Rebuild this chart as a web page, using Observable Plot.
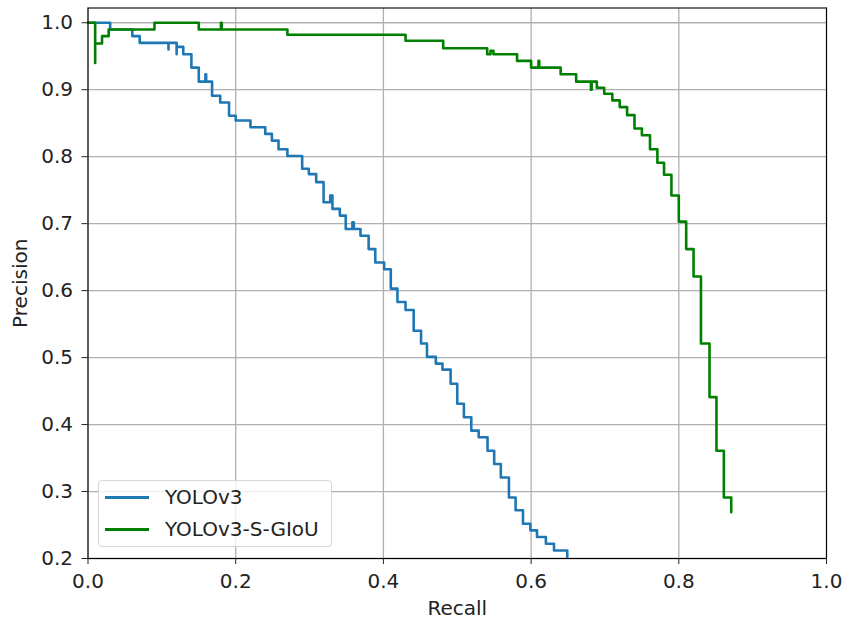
<!DOCTYPE html>
<html><head><meta charset="utf-8">
<script src="https://cdn.jsdelivr.net/npm/d3@7"></script>
<script src="https://cdn.jsdelivr.net/npm/@observablehq/plot@0.6"></script>
<style>
body{margin:0;background:#fff;}
#wrap{position:relative;width:847px;height:621px;}
#legend{position:absolute;left:98px;top:480px;width:234px;height:67px;box-sizing:border-box;border:1px solid #d6d6d6;border-radius:4px;background:rgba(255,255,255,0.8);font-family:"DejaVu Sans";font-size:20px;color:#222;}
.entry{position:absolute;left:0;height:22px;}
.entry .sw{position:absolute;left:6px;top:10px;width:44px;height:2.6px;}
.entry .lb{position:absolute;left:66px;top:0;white-space:nowrap;line-height:22px;}
</style>
</head><body>
<div id="wrap"></div>
<script>
const seriesNames = ["YOLOv3", "YOLOv3-S-GIoU"];
const seriesColors = ["#1f77b4", "#008000"];
const xTicks = [0, 0.2, 0.4, 0.6, 0.8, 1.0];
const yTicks = [0.2, 0.3, 0.4, 0.5, 0.6, 0.7, 0.8, 0.9, 1.0];

const yolov3Recall = [0, 0.030, 0.060, 0.070, 0.109, 0.109, 0.120, 0.120, 0.129, 0.140, 0.150, 0.159, 0.160, 0.168, 0.179, 0.191, 0.200, 0.220, 0.240, 0.249, 0.258, 0.270, 0.290, 0.299, 0.309, 0.319, 0.328, 0.331, 0.341, 0.349, 0.358, 0.360, 0.369, 0.380, 0.389, 0.401, 0.410, 0.419, 0.430, 0.441, 0.451, 0.459, 0.471, 0.480, 0.491, 0.500, 0.509, 0.519, 0.529, 0.541, 0.550, 0.559, 0.570, 0.579, 0.589, 0.599, 0.608, 0.620, 0.631, 0.649];
const yolov3Precision = [1.00, 0.99, 0.98, 0.97, 0.96, 0.97, 0.953, 0.964, 0.953, 0.933, 0.912, 0.923, 0.912, 0.891, 0.881, 0.861, 0.854, 0.844, 0.834, 0.824, 0.811, 0.801, 0.782, 0.774, 0.762, 0.732, 0.742, 0.722, 0.712, 0.692, 0.702, 0.692, 0.682, 0.662, 0.642, 0.632, 0.603, 0.583, 0.571, 0.540, 0.521, 0.501, 0.491, 0.482, 0.461, 0.431, 0.411, 0.391, 0.381, 0.361, 0.341, 0.321, 0.291, 0.272, 0.252, 0.242, 0.232, 0.222, 0.212, 0.202];

const sgiouRecall = [0, 0.0097, 0.0097, 0.019, 0.028, 0.090, 0.150, 0.180, 0.181, 0.270, 0.430, 0.481, 0.5405, 0.545, 0.549, 0.581, 0.600, 0.610, 0.611, 0.640, 0.661, 0.681, 0.682, 0.689, 0.699, 0.710, 0.720, 0.730, 0.740, 0.750, 0.761, 0.771, 0.780, 0.790, 0.800, 0.810, 0.820, 0.830, 0.8416, 0.851, 0.861, 0.871];
const sgiouPrecision = [1.00, 0.94, 0.969, 0.98, 0.99, 1.00, 0.99, 1.00, 0.99, 0.982, 0.973, 0.962, 0.953, 0.958, 0.953, 0.943, 0.933, 0.943, 0.933, 0.923, 0.912, 0.90, 0.912, 0.903, 0.894, 0.884, 0.874, 0.862, 0.842, 0.832, 0.811, 0.791, 0.773, 0.742, 0.703, 0.662, 0.621, 0.521, 0.441, 0.361, 0.291, 0.269];

const rows = [
  ...yolov3Recall.map((r, i) => ({recall: r, precision: yolov3Precision[i], series: seriesNames[0]})),
  ...sgiouRecall.map((r, i) => ({recall: r, precision: sgiouPrecision[i], series: seriesNames[1]}))
];

const fmt = d3.format(".1f");
const chart = Plot.plot({
  width: 847,
  height: 621,
  marginLeft: 87.5,
  marginRight: 21,
  marginTop: 7.5,
  marginBottom: 63,
  style: {fontFamily: "DejaVu Sans", fontSize: "20px", color: "#222", background: "#fff"},
  x: {domain: [0, 1]},
  y: {domain: [0.2, 1.022]},
  color: {domain: seriesNames, range: seriesColors},
  marks: [
    Plot.gridX(xTicks, {stroke: "#b0b0b0", strokeOpacity: 1, strokeWidth: 1.3}),
    Plot.gridY(yTicks, {stroke: "#b0b0b0", strokeOpacity: 1, strokeWidth: 1.3}),
    Plot.line(rows, {x: "recall", y: "precision", z: "series", stroke: "series", curve: "step-after", strokeWidth: 2.6}),
    Plot.frame({stroke: "#000", strokeWidth: 1.1}),
    Plot.axisX(xTicks, {tickFormat: fmt, tickSize: 6, tickPadding: 9, fontSize: 20, label: "Recall", labelAnchor: "center", labelArrow: "none", labelOffset: 56}),
    Plot.axisY(yTicks, {tickFormat: fmt, tickSize: 6, tickPadding: 9, fontSize: 20, label: "Precision", labelAnchor: "center", labelArrow: "none", labelOffset: 75})
  ]
});
const wrap = document.getElementById("wrap");
wrap.appendChild(chart);

const legend = document.createElement("div");
legend.id = "legend";
seriesNames.forEach((name, i) => {
  const e = document.createElement("div");
  e.className = "entry";
  e.style.top = (5 + i * 32) + "px";
  const sw = document.createElement("div");
  sw.className = "sw";
  sw.style.background = seriesColors[i];
  const lb = document.createElement("div");
  lb.className = "lb";
  lb.textContent = name;
  e.appendChild(sw); e.appendChild(lb);
  legend.appendChild(e);
});
wrap.appendChild(legend);
</script>
</body></html>
